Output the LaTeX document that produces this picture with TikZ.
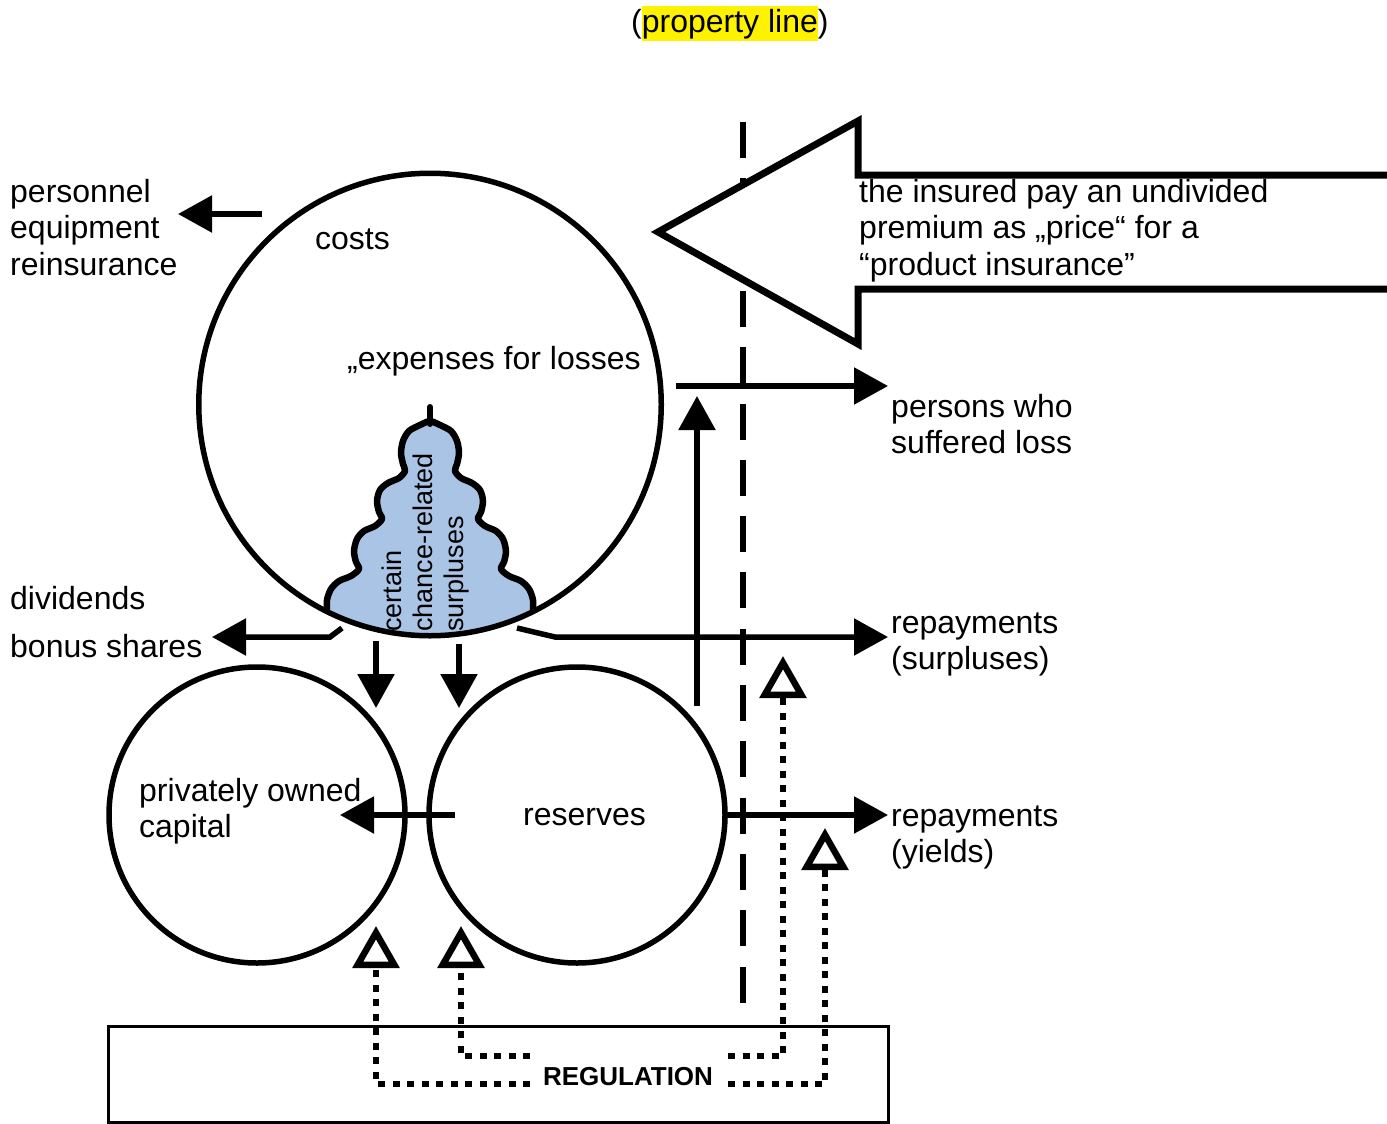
\documentclass[tikz,border=0pt]{standalone}
\usepackage{fontspec}
\setmainfont{Liberation Sans}
\usetikzlibrary{arrows.meta}
\definecolor{surplusblue}{RGB}{169,196,228}
\newcommand\figmain{\fontsize{32}{36.5}\selectfont}
\newcommand\figsmall{\fontsize{27}{31}\selectfont}
\newcommand\figreg{\fontsize{26}{30}\selectfont\bfseries}
\newcommand\hlyellow[1]{{\setlength{\fboxsep}{0pt}\colorbox{yellow}{\rule[-8pt]{0pt}{35pt}#1}}}
\tikzset{
  lbl/.style={anchor=base west, inner sep=0pt, font=\figmain},
  ring/.style={circle, draw, line width=5.5pt, inner sep=0pt},
  flow/.style={line width=5.5pt, -{Triangle[length=34pt,width=36pt]}},
  ruling/.style={line width=6.5pt, dash pattern=on 7pt off 7.5pt,
                 -{Triangle[open,length=42pt,width=46pt,line width=6.5pt]}},
  border/.style={line width=6pt, dash pattern=on 36pt off 20.3pt},
}
\begin{document}
\begin{tikzpicture}[x=1pt,y=-1pt]
\useasboundingbox (0,0) rectangle (1387,1124);
\fill[white] (0,0) rectangle (1387,1124);

% property line
\coordinate (pltop) at (743,122);
\coordinate (plbot) at (743,1003);
\draw[border] (pltop) -- (plbot);
\node[lbl] (plabel) at (631,33) {(\hlyellow{property line})};

% chance-related surpluses, kept inside the large circle
\begin{scope}
  \clip (430,404.5) circle[radius=231.25pt];
  \filldraw[fill=surplusblue, line width=6.5pt, line join=round]
    plot[smooth] coordinates {
      (327,650) (327,612) (327,600) (331,589) (339,581) (351,576) (359,569)
      (356,562) (354,551) (357,539) (364,531) (375,526) (382,519) (379,512)
      (377,501) (380,490) (388,483) (399,478) (405,471) (403,464) (401,453)
      (403,441) (409,431) (420,425) (429,421)
      (431,421) (440,425) (451,431) (457,441) (459,453) (457,464) (455,471)
      (461,478) (472,483) (480,490) (483,501) (481,512) (478,519) (485,526)
      (496,531) (503,539) (506,551) (504,562) (501,569) (509,576) (521,581)
      (529,589) (533,600) (533,612) (533,650)};
\end{scope}
\draw[line width=6pt, line cap=round] (430,407) -- (430,424);
\node[rotate=90, anchor=base west, inner sep=0pt, font=\figsmall] (s1) at (401,632) {certain};
\node[rotate=90, anchor=base west, inner sep=0pt, font=\figsmall] (s2) at (432,632) {chance-related};
\node[rotate=90, anchor=base west, inner sep=0pt, font=\figsmall] (s3) at (463,632) {surpluses};

% the three funds
\node[ring, minimum size=462.5pt] (main) at (430,404.5) {};
\node[ring, minimum size=296pt] (capital) at (257,815) {};
\node[ring, minimum size=296pt] (reserves) at (577,815) {};

% premium arrow of the insured
\draw[line width=7pt, fill=white, line join=miter, miter limit=10]
  (1400,175) -- (858,175) -- (858,121) -- (658,232) -- (858,344) -- (858,289) -- (1400,289);

% flows of money
\coordinate (costout) at (262,214);
\coordinate (costin) at (178,214);
\coordinate (divA) at (342,628);
\coordinate (divB) at (330,637);
\coordinate (divC) at (212,637);
\coordinate (surA) at (517,628);
\coordinate (surB) at (555,637);
\coordinate (surC) at (888,637);
\coordinate (downA1) at (376,641);
\coordinate (downA2) at (376,708);
\coordinate (downB1) at (459,644);
\coordinate (downB2) at (459,708);
\coordinate (up1) at (697,706);
\coordinate (up2) at (697,396);
\coordinate (loss1) at (676,386);
\coordinate (loss2) at (888,386);
\coordinate (res1) at (455,815);
\coordinate (res2) at (340,815);
\coordinate (yld1) at (727,815);
\coordinate (yld2) at (888,815);

\draw[flow] (costout) -- (costin);
\draw[flow, line join=miter] (divA) -- (divB) -- (divC);
\draw[flow, line join=miter] (surA) -- (surB) -- (surC);
\draw[flow] (downA1) -- (downA2);
\draw[flow] (downB1) -- (downB2);
\draw[flow] (up1) -- (up2);
\draw[flow] (loss1) -- (loss2);
\draw[flow] (res1) -- (res2);
\draw[flow] (yld1) -- (yld2);

% regulation
\node[draw, line width=3pt, minimum width=780pt, minimum height=96pt, inner sep=0pt] (regbox) at (498,1074) {};
\node[anchor=base, inner sep=0pt, font=\figreg] (reg) at (628,1085) {REGULATION};
\coordinate (rA0) at (530,1084);
\coordinate (rA1) at (376,1084);
\coordinate (rA2) at (376,926);
\coordinate (rB0) at (530,1056);
\coordinate (rB1) at (461,1056);
\coordinate (rB2) at (461,926);
\coordinate (rC0) at (728,1056);
\coordinate (rC1) at (783,1056);
\coordinate (rC2) at (783,656);
\coordinate (rD0) at (728,1084);
\coordinate (rD1) at (825,1084);
\coordinate (rD2) at (825,828);
\draw[ruling] (rA0) -- (rA1) -- (rA2);
\draw[ruling] (rB0) -- (rB1) -- (rB2);
\draw[ruling] (rC0) -- (rC1) -- (rC2);
\draw[ruling] (rD0) -- (rD1) -- (rD2);

% labels
\node[lbl] (t1) at (10,202) {personnel};
\node[lbl] (t2) at (10,238.5) {equipment};
\node[lbl] (t3) at (10,275) {reinsurance};
\node[lbl] (t4) at (315,249) {costs};
\node[lbl] (t5) at (347,369) {„expenses for losses};
\node[lbl] (t6) at (859,202) {the insured pay an undivided};
\node[lbl] (t7) at (859,238.5) {premium as „price“ for a};
\node[lbl] (t8) at (859,275) {“product insurance”};
\node[lbl] (t9) at (891,417) {persons who};
\node[lbl] (t10) at (891,453.5) {suffered loss};
\node[lbl] (t11) at (10,609) {dividends};
\node[lbl] (t12) at (10,657) {bonus shares};
\node[lbl] (t13) at (891,633) {repayments};
\node[lbl] (t14) at (891,669.5) {(surpluses)};
\node[lbl] (t15) at (139,801) {privately owned};
\node[lbl] (t16) at (139,837.5) {capital};
\node[lbl] (t17) at (523,825) {reserves};
\node[lbl] (t18) at (891,826) {repayments};
\node[lbl] (t19) at (891,862.5) {(yields)};
\end{tikzpicture}
\end{document}
